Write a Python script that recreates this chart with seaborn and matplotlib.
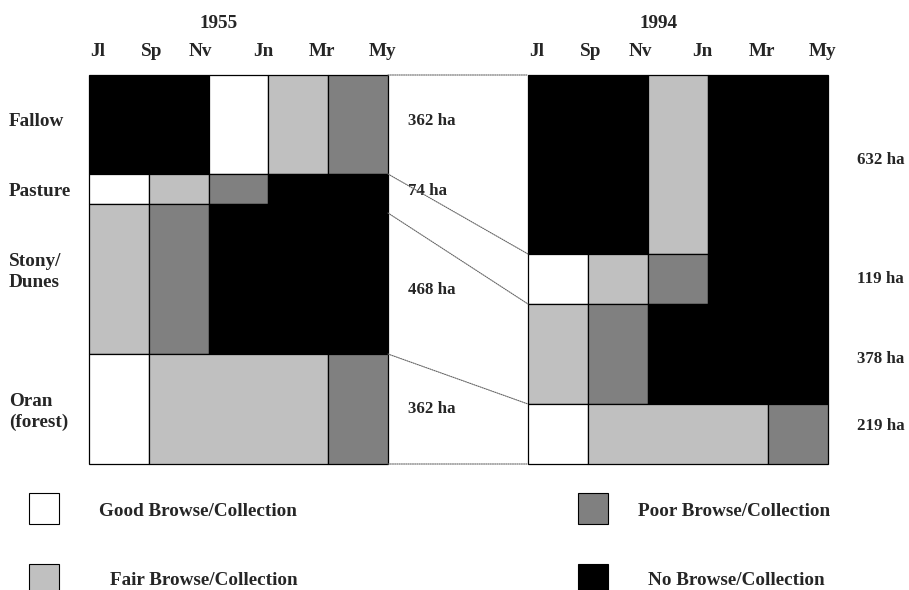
import matplotlib
matplotlib.use("Agg")
import matplotlib.pyplot as plt
from matplotlib.patches import Rectangle, ConnectionPatch
import seaborn as sns

# ---- data -------------------------------------------------------------
periods = ["Jl", "Sp", "Nv", "Jn", "Mr", "My"]
land_units = ["Fallow", "Pasture", "Stony/\nDunes", "Oran\n(forest)"]
years = ["1955", "1994"]
area_1955 = [362, 74, 468, 362]
area_1994 = [632, 119, 378, 219]
levels = ["Good Browse/Collection", "Fair Browse/Collection",
          "Poor Browse/Collection", "No Browse/Collection"]
# browse level per land unit and season block (0 good, 1 fair, 2 poor, 3 none)
browse_1955 = [[3, 3, 0, 1, 2],
               [0, 1, 2, 3, 3],
               [1, 2, 3, 3, 3],
               [0, 1, 1, 1, 2]]
browse_1994 = [[3, 3, 1, 3, 3],
               [0, 1, 2, 3, 3],
               [1, 2, 3, 3, 3],
               [0, 1, 1, 1, 2]]

# ---- styling / layout -------------------------------------------------
sns.set_theme(style="white")
plt.rcParams["font.family"] = ["Liberation Serif", "DejaVu Serif"]
plt.rcParams["font.weight"] = "bold"

level_colors = ["#ffffff", "#c0c0c0", "#808080", "#000000"]
W, H = 909, 590
BIG, SMALL = 13.8, 12.2

# row boundaries (pixels from the top of each panel)
row_edges_1955 = [0, 99, 129, 279, 389]
row_edges_1994 = [0, 179, 229, 329, 389]
tick_pos = [0.15, 1.05, 1.87, 2.91, 3.90, 4.91]

fig = plt.figure(figsize=(W / 100, H / 100), dpi=100)


def px_axes(x0, y0, x1, y1, **kw):
    return fig.add_axes([x0 / W, 1 - y1 / H, (x1 - x0) / W, (y1 - y0) / H], **kw)


key = px_axes(0, 0, W, H, zorder=-1)
key.set_xlim(0, W)
key.set_ylim(H, 0)
key.axis("off")

ax55 = px_axes(89, 75, 388, 464)
ax94 = px_axes(528, 75, 828, 464)


def draw_panel(ax, grid, edges, title):
    ncol = len(grid[0])
    for r, row in enumerate(grid):
        top, bot = edges[r], edges[r + 1]
        start = 0
        # merge neighbouring blocks of the same browse level
        for c in range(1, ncol + 1):
            if c == ncol or row[c] != row[start]:
                ax.barh(y=(top + bot) / 2, width=c - start, left=start,
                        height=bot - top, color=level_colors[row[start]],
                        edgecolor="black", linewidth=0.9, clip_on=False)
                start = c
    ax.set_xlim(0, ncol)
    ax.set_ylim(edges[-1], 0)
    for s in ax.spines.values():
        s.set_visible(False)
    ax.set_yticks([])
    ax.set_xticks(tick_pos, labels=periods)
    ax.tick_params(top=True, labeltop=True, bottom=False, labelbottom=False,
                   length=0, pad=10.5, labelsize=BIG)
    for lab in ax.get_xticklabels():
        lab.set_fontweight("bold")
    ax.text(2.17, -47, title, ha="center", va="baseline", fontsize=BIG,
            fontweight="bold", clip_on=False)


draw_panel(ax55, browse_1955, row_edges_1955, years[0])
draw_panel(ax94, browse_1994, row_edges_1994, years[1])

# land unit names
name_baselines = [51, 121, 191, 331]
for name, yb in zip(land_units, name_baselines):
    for j, line in enumerate(name.split("\n")):
        ax55.text(-1.34, yb + j * 20.5, line, ha="left", va="baseline",
                  fontsize=BIG, fontweight="bold", clip_on=False)

# areas
for a, yb in zip(area_1955, [50, 120, 219, 338]):
    ax55.text(5.33, yb, f"{a} ha", ha="left", va="baseline",
              fontsize=SMALL, fontweight="bold", clip_on=False)
for a, yb in zip(area_1994, [89, 208, 288, 355]):
    ax94.text(5.48, yb, f"{a} ha", ha="left", va="baseline",
              fontsize=SMALL, fontweight="bold", clip_on=False)

# dotted links between matching land units
links = [(0, 0), (99, 179), (138, 229), (279, 329), (389, 389)]
for yl, yr in links:
    con = ConnectionPatch(xyA=(5, yl), coordsA=ax55.transData,
                          xyB=(0, yr), coordsB=ax94.transData,
                          linestyle=(0, (1, 1)), color="0.4", linewidth=0.8)
    fig.add_artist(con)

# key
key_boxes = [(29, 493), (29, 564), (578, 493), (578, 564)]
key_text = [(99, 516), (110, 585), (638, 516), (648, 585)]
for lvl, col, (bx, by), (tx, ty) in zip(levels, level_colors, key_boxes, key_text):
    key.add_patch(Rectangle((bx, by), 30, 31, facecolor=col,
                            edgecolor="black", linewidth=0.8))
    key.text(tx, ty, lvl, ha="left", va="baseline", fontsize=BIG,
             fontweight="bold")

fig.savefig("out.png", dpi=100)
